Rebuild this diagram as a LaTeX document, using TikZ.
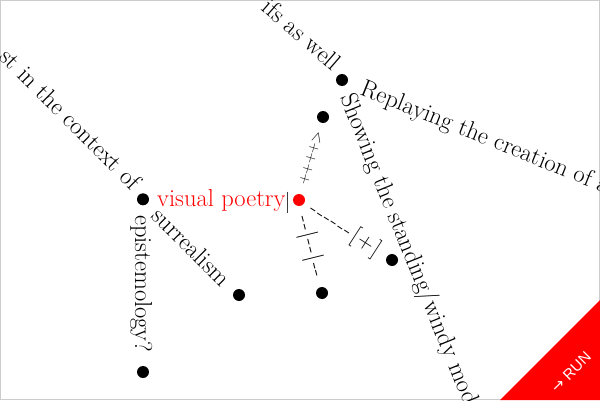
\documentclass[tikz,border=0pt]{standalone}
\usepackage{fontspec}
\newfontfamily\runfont{Liberation Sans}
\newfontfamily\arrowfont{DejaVu Sans}
\usetikzlibrary{calc}
\definecolor{framegray}{RGB}{204,204,204}
\definecolor{cursorgray}{RGB}{60,60,60}
\tikzset{
  dot/.style={circle, fill=black, minimum size=12pt, inner sep=0pt},
  rdot/.style={dot, fill=red},
  txt/.style={inner sep=0pt, font=\fontsize{24.5}{29}\selectfont},
  sym/.style={inner sep=0pt, font=\fontsize{22.5}{27}\selectfont, sloped, midway, anchor=center},
  cursor/.style={draw=cursorgray, line width=1pt},
  runlbl/.style={inner sep=0pt, text=white, font=\runfont\fontsize{15}{15}\selectfont},
}
\newcommand\hy{\makebox[8pt]{-}}
\newcommand\vb{\makebox[8pt]{|}}
\newcommand\sy[1]{\raisebox{-5.8pt}[0pt][0pt]{#1}}
\newcommand\pl{\makebox[11pt]{\raisebox{-3.5pt}[0pt][0pt]{\fontsize{15}{15}\selectfont +}}}
\newcommand\gtc{\makebox[11pt]{\raisebox{-4pt}[0pt][0pt]{\fontsize{16}{16}\selectfont >}}}
\newcommand\brk{\makebox[10pt]{[}\makebox[15pt]{+}\makebox[10pt]{]}}
\begin{document}
\begin{tikzpicture}[x=1pt,y=1pt]
\useasboundingbox (0,0) rectangle (600,400);
\clip (0,0) rectangle (600,400);
\fill[white] (0,0) rectangle (600,400);
\draw[framegray, line width=1pt] (0.5,0.5) rectangle (599.5,399.5);

% dots
\node[dot]  (A) at (143,200.7) {};
\node[dot]  (B) at (342,320) {};
\node[dot]  (T) at (323,283) {};
\node[rdot] (R) at (299,200) {};
\node[dot]  (S) at (239,105) {};
\node[dot]  (E) at (143,28) {};
\node[dot]  (D) at (322,107) {};
\node[dot]  (P) at (392,140) {};

% texts
\node[txt, anchor=base east, rotate=-45] (t1) at (131,209) {st in the context of};
\node[txt, anchor=base west, rotate=-90] (t2) at (135,185) {epistemology?};
\node[txt, anchor=base west, rotate=-45] (t3) at (150,183) {surrealism};
\node[txt, text=red, anchor=base west] (vp) at (157,193.3) {visual poetry};
\node[txt, anchor=base east, rotate=-41] (t5) at (332,328) {ifs as well};
\node[txt, anchor=base west, rotate=-22] (t6) at (359,306) {Replaying the creation of a};
\node[txt, anchor=base west, rotate=-68] (t7) at (340,302.5) {Showing the standing/windy mod};

\draw[cursor] ([xshift=1.5pt,yshift=15pt]vp.base east) -- ([xshift=1.5pt,yshift=-6pt]vp.base east);

% symbol edges from the red node
\path (R) -- node[sym] {\pl\pl\pl\pl\gtc} (T);
\path (R) -- node[sym] {\sy{\hy\hy\vb\hy\hy\vb\hy\hy}} (D);
\path (R) -- node[sym] {\sy{\hy\hy\hy\hy\hy\hy\brk}} (P);

% run corner
\fill[red] (500,0) -- (600,100) -- (600,0) -- cycle;
\node[runlbl, rotate=45] (run) at (571,28) {{\arrowfont →} RUN};
\end{tikzpicture}
\end{document}
